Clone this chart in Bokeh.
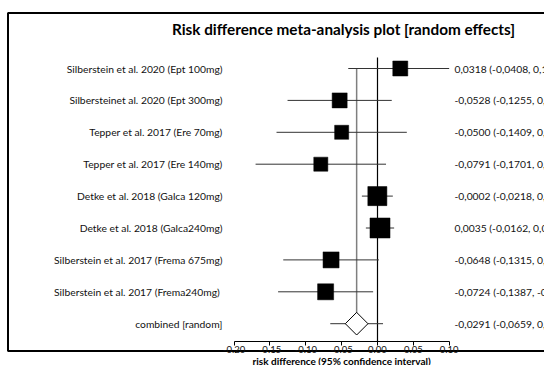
import numpy as np
from bokeh.plotting import figure
from bokeh.models import (Range1d, LinearAxis, FixedTicker, NumeralTickFormatter,
                          ColumnDataSource, Label)
from bokeh.core.properties import value
from bokeh.embed import file_html
from bokeh.resources import INLINE

# ---- data -------------------------------------------------------------
studies = [
    "Silberstein et al. 2020 (Ept 100mg)",
    "Silbersteinet al. 2020 (Ept 300mg)",
    "Tepper et al. 2017 (Ere 70mg)",
    "Tepper et al. 2017 (Ere 140mg)",
    "Detke et al. 2018 (Galca 120mg)",
    "Detke et al. 2018 (Galca240mg)",
    "Silberstein et al. 2017 (Frema 675mg)",
    "Silberstein et al. 2017  (Frema240mg)",
]
risk_diff = [0.0318, -0.0528, -0.0500, -0.0791, -0.0002, 0.0035, -0.0648, -0.0724]
ci_lower = [-0.0408, -0.1255, -0.1409, -0.1701, -0.0218, -0.0162, -0.1315, -0.1387]
ci_upper = [0.1044, 0.0199, 0.0409, 0.0119, 0.0214, 0.0232, 0.0019, -0.0061]
weights = [10.6, 10.6, 9.3, 9.3, 17.1, 18.9, 12.1, 12.1]   # random-effects weights, %

pooled_label = "combined [random]"
pooled_rd = -0.0291
pooled_lower = -0.0659
pooled_upper = 0.0077

axis_ticks = [-0.20, -0.15, -0.10, -0.05, 0.00, 0.05, 0.10]
axis_title = "risk difference (95% confidence interval)"
plot_title = "Risk difference meta-analysis plot [random effects]"

# ---- canvas geometry --------------------------------------------------
W, H = 544, 365
X_ZERO_PX, X_SCALE = 377.0, 716.7      # px of x=0, px per unit risk difference
ROW0_PX, ROW_STEP = 68.0, 31.9         # px of first row, px between rows
FONT = "Lato"
TXT = "10.3px"


def col(px):
    """canvas x pixel -> data x"""
    return (px - X_ZERO_PX) / X_SCALE


def row(px):
    """canvas y pixel -> row coordinate"""
    return (px - ROW0_PX) / ROW_STEP


def fmt(v):
    return f"{v:.4f}".replace(".", ",")


n = len(studies)
rows = list(range(n))
pooled_row = n
x_min, x_max = axis_ticks[0], axis_ticks[-1]

p = figure(width=W, height=H, output_backend="svg", toolbar_location=None,
           x_range=Range1d(col(0), col(W)), y_range=Range1d(row(H), row(0)),
           x_axis_type=None, y_axis_type=None, min_border=0,
           background_fill_color="white", border_fill_color="white")
p.outline_line_color = None
p.xgrid.visible = False
p.ygrid.visible = False

# outer frame (its right side runs past the canvas)
p.quad(left=[col(7.5)], right=[col(W + 60)], top=[row(12.5)], bottom=[row(350.5)],
       fill_color=None, line_color="black", line_width=2)

src = ColumnDataSource(dict(
    row=rows, rd=risk_diff,
    lo=np.clip(ci_lower, x_min, x_max), hi=np.clip(ci_upper, x_min, x_max),
    size=4.61 * np.sqrt(weights),
    name=studies,
    txt=[f"{fmt(r)} ({fmt(l)}, {fmt(u)})" for r, l, u in zip(risk_diff, ci_lower, ci_upper)],
))

axis_row = row(341)

# line of no effect
p.segment(x0=[0], x1=[0], y0=[row(57)], y1=[axis_row], line_color="black", line_width=1.2)
# pooled estimate reference line
p.segment(x0=[pooled_rd], x1=[pooled_rd], y0=[0], y1=[pooled_row],
          line_color="black", line_width=1.5, line_dash="1 1")

# study confidence intervals and weighted squares
p.segment(x0="lo", x1="hi", y0="row", y1="row", source=src, line_color="#333333", line_width=1)
p.scatter(x="rd", y="row", size="size", marker="square", source=src,
          fill_color="black", line_color="black", line_width=0.5)

# pooled estimate
p.segment(x0=[pooled_lower], x1=[pooled_upper], y0=[pooled_row], y1=[pooled_row],
          line_color="#333333", line_width=1)
p.scatter(x=[pooled_rd], y=[pooled_row], size=16, marker="square", angle=np.pi / 4,
          fill_color="white", line_color="black", line_width=1)

# study names on the left, estimates on the right
label_style = dict(text_baseline="middle", text_font=value(FONT), text_font_size=TXT,
                   text_color="#111111")
p.text(x=col(222), y="row", text="name", source=src, text_align="right", **label_style)
p.text(x=col(222), y=[pooled_row], text=[pooled_label], text_align="right", **label_style)
p.text(x=col(454), y="row", text="txt", source=src, text_align="left", **label_style)
p.text(x=col(454), y=[pooled_row],
       text=[f"{fmt(pooled_rd)} ({fmt(pooled_lower)}, {fmt(pooled_upper)})"],
       text_align="left", **label_style)

# title
p.add_layout(Label(x=col(343), y=row(28), text=plot_title,
                   text_align="center", text_baseline="middle", text_font=FONT,
                   text_font_size="15.3px", text_font_style="bold", text_color="black"))

# x axis drawn inside the frame
ax = LinearAxis(fixed_location=axis_row, bounds=(x_min, x_max),
                ticker=FixedTicker(ticks=axis_ticks, minor_ticks=[]),
                formatter=NumeralTickFormatter(format="0.00"))
ax.axis_line_color = "black"
ax.axis_line_width = 1.2
ax.major_tick_in = 0
ax.major_tick_out = 4
ax.minor_tick_out = 0
ax.minor_tick_in = 0
ax.major_tick_line_color = "black"
ax.major_label_standoff = 0
ax.major_label_text_font = FONT
ax.major_label_text_font_size = "9.5px"
ax.major_label_text_color = "#111111"
p.add_layout(ax, "below")

# axis title, centred under the axis span
p.add_layout(Label(x=(x_min + x_max) / 2, y=row(360), text=axis_title,
                   text_align="center", text_baseline="middle", text_font=FONT,
                   text_font_size="10px", text_font_style="bold", text_color="black"))

open("out.html", "w").write(file_html(p, INLINE))
